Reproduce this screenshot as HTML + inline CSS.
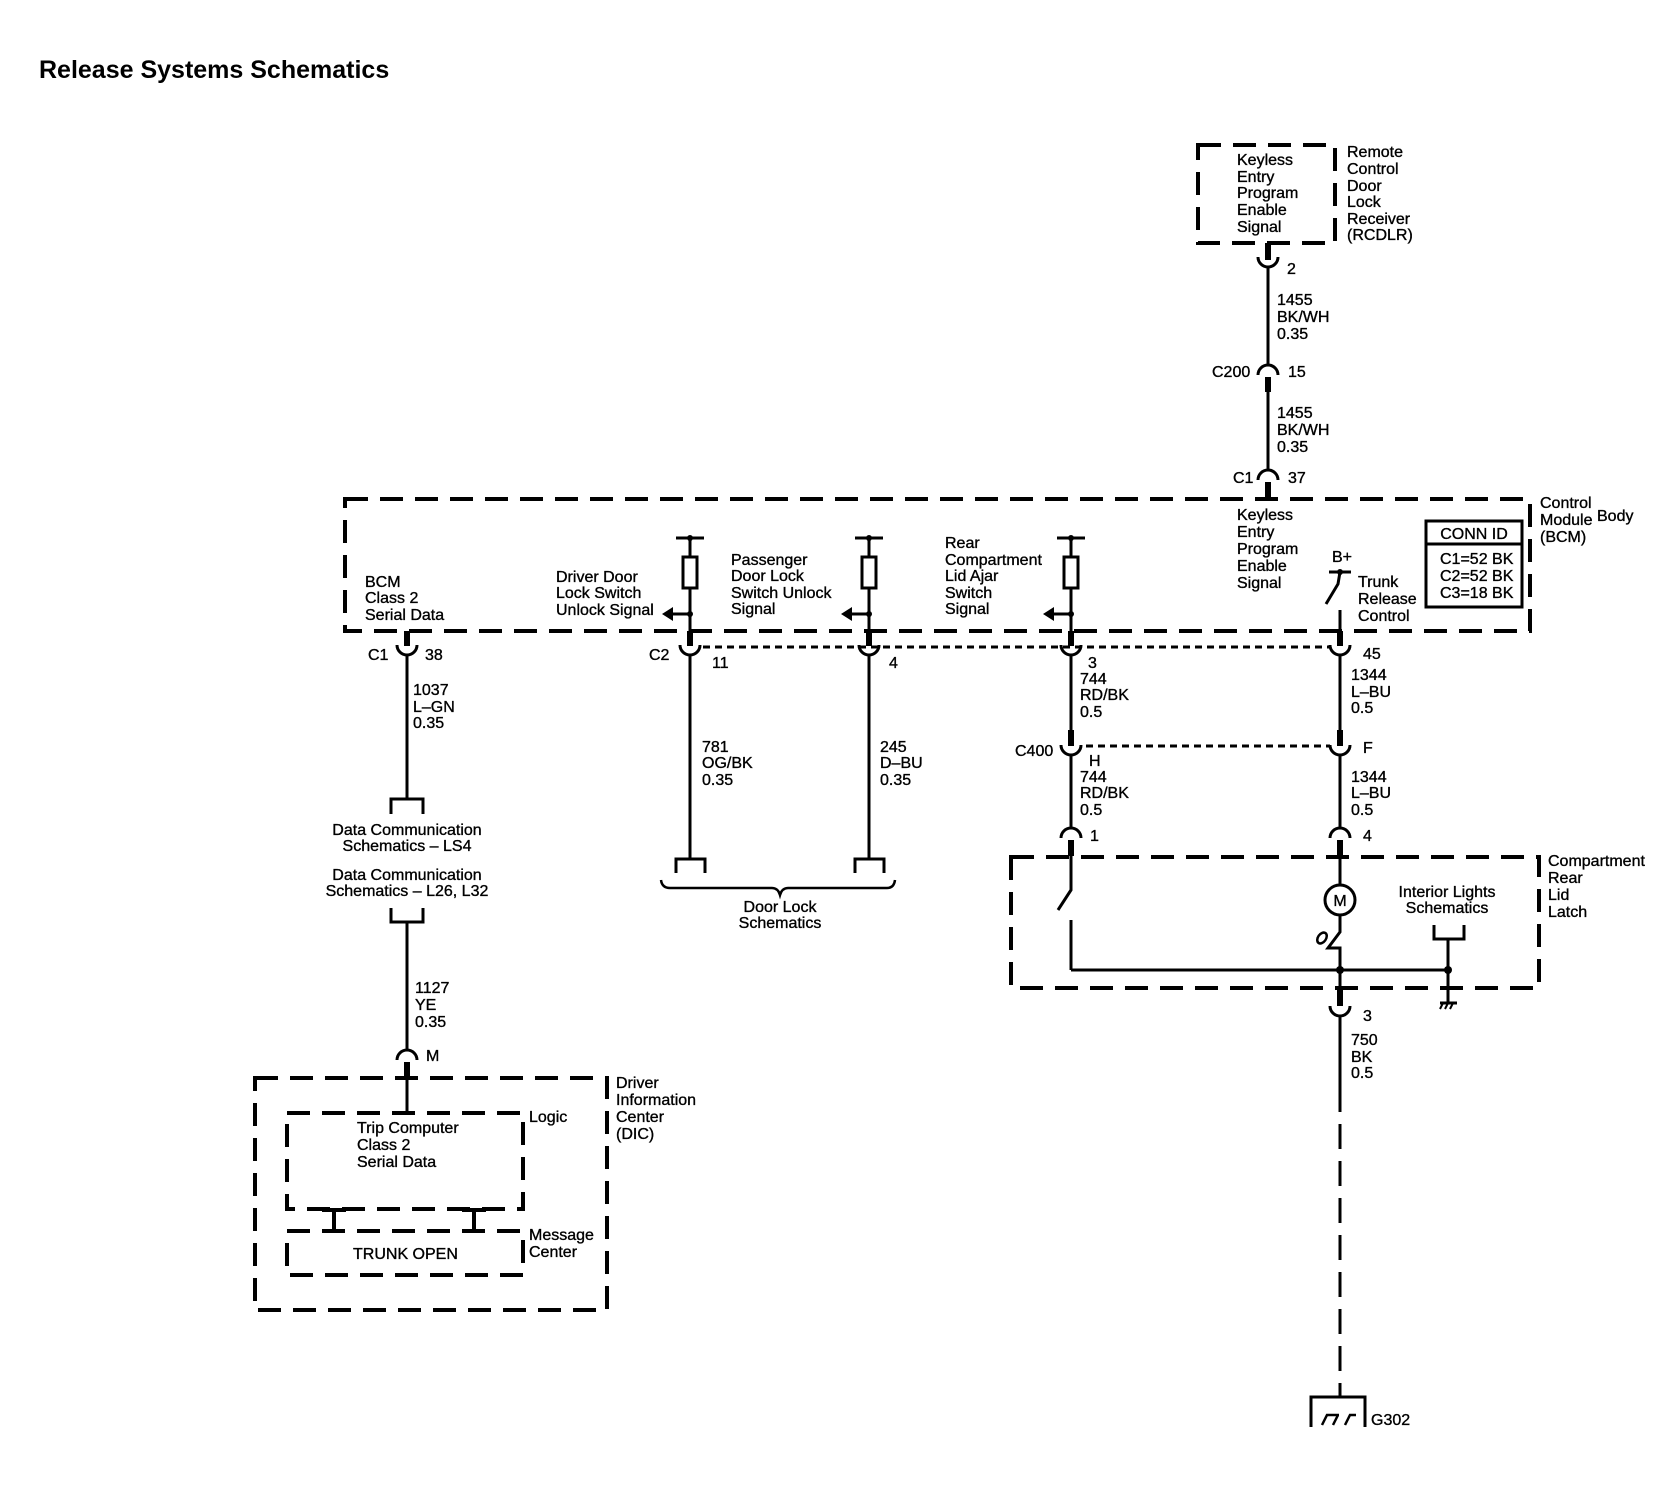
<!DOCTYPE html>
<html><head><meta charset="utf-8"><style>
html,body{margin:0;padding:0;background:#fff;}
svg{display:block;}
text{font-family:"Liberation Sans",Arial,sans-serif;font-size:16px;fill:#000;stroke:#000;stroke-width:0.35;}
.b{fill:none;stroke:#000;stroke-width:4;stroke-dasharray:23 12;}
.w{fill:none;stroke:#000;stroke-width:3;}
.s{fill:none;stroke:#000;stroke-width:6;}
.d{fill:none;stroke:#000;stroke-width:3;stroke-dasharray:7 5;}
</style></head><body>
<svg width="1678" height="1504" viewBox="0 0 1678 1504" xmlns="http://www.w3.org/2000/svg">
<text x="39" y="78" style="font-size:25px;font-weight:bold;stroke-width:0">Release Systems Schematics</text>

<!-- RCDLR -->
<rect x="1198" y="145" width="137" height="98" class="b"/>
<text x="1237" y="165">Keyless</text><text x="1237" y="182">Entry</text><text x="1237" y="198">Program</text><text x="1237" y="215">Enable</text><text x="1237" y="232">Signal</text>
<text x="1347" y="157">Remote</text><text x="1347" y="174">Control</text><text x="1347" y="191">Door</text><text x="1347" y="207">Lock</text><text x="1347" y="224">Receiver</text><text x="1347" y="240">(RCDLR)</text>
<line x1="1268" y1="243" x2="1268" y2="260" class="s"/>
<path d="M1258,257 A10,10 0 0 0 1278,257" class="w"/>
<text x="1287" y="274">2</text>
<line x1="1268" y1="267" x2="1268" y2="366" class="w"/>
<text x="1277" y="305">1455</text><text x="1277" y="322">BK/WH</text><text x="1277" y="339">0.35</text>
<path d="M1258,375 A10,10 0 0 1 1278,375" class="w"/>
<text x="1212" y="377">C200</text><text x="1288" y="377">15</text>
<line x1="1268" y1="377" x2="1268" y2="392" class="s"/>
<line x1="1268" y1="392" x2="1268" y2="471" class="w"/>
<text x="1277" y="418">1455</text><text x="1277" y="435">BK/WH</text><text x="1277" y="452">0.35</text>
<path d="M1258,480 A10,10 0 0 1 1278,480" class="w"/>
<text x="1233" y="483">C1</text><text x="1288" y="483">37</text>
<line x1="1268" y1="482" x2="1268" y2="499" class="s"/>

<!-- BCM -->
<rect x="345" y="499" width="1185" height="132" class="b"/>
<text x="1540" y="508">Control</text><text x="1540" y="525">Module</text><text x="1540" y="542">(BCM)</text><text x="1597" y="521">Body</text>
<text x="1237" y="520">Keyless</text><text x="1237" y="537">Entry</text><text x="1237" y="554">Program</text><text x="1237" y="571">Enable</text><text x="1237" y="588">Signal</text>
<rect x="1426" y="521" width="96" height="86" fill="none" stroke="#000" stroke-width="3"/>
<line x1="1426" y1="544" x2="1522" y2="544" stroke="#000" stroke-width="3"/>
<text x="1474" y="539" text-anchor="middle">CONN ID</text>
<text x="1440" y="564">C1=52 BK</text><text x="1440" y="581">C2=52 BK</text><text x="1440" y="598">C3=18 BK</text>
<text x="1332" y="562">B+</text>
<line x1="1329" y1="572" x2="1351" y2="572" class="w"/>
<circle cx="1340" cy="572" r="3"/>
<path d="M1340,572 L1338,584 L1326,604" class="w"/>
<text x="1358" y="587">Trunk</text><text x="1358" y="604">Release</text><text x="1358" y="621">Control</text>
<line x1="1340" y1="610" x2="1340" y2="631" class="w"/>

<text x="365" y="587">BCM</text><text x="365" y="603">Class 2</text><text x="365" y="620">Serial Data</text>
<text x="556" y="582">Driver Door</text><text x="556" y="598">Lock Switch</text><text x="556" y="615">Unlock Signal</text>
<text x="731" y="565">Passenger</text><text x="731" y="581">Door Lock</text><text x="731" y="598">Switch Unlock</text><text x="731" y="614">Signal</text>
<text x="945" y="548">Rear</text><text x="945" y="565">Compartment</text><text x="945" y="581">Lid Ajar</text><text x="945" y="598">Switch</text><text x="945" y="614">Signal</text>

<!-- pull-up inputs -->
<g>
<line x1="676" y1="538" x2="704" y2="538" class="w"/><circle cx="690" cy="538" r="3"/>
<line x1="690" y1="538" x2="690" y2="557" class="w"/><rect x="683" y="557" width="14" height="31" fill="none" stroke="#000" stroke-width="3"/>
<line x1="690" y1="588" x2="690" y2="631" class="w"/><line x1="690" y1="614" x2="670" y2="614" class="w"/><polygon points="662,614 673,607 673,621"/><circle cx="690" cy="614" r="3"/>
<line x1="855" y1="538" x2="883" y2="538" class="w"/><circle cx="869" cy="538" r="3"/>
<line x1="869" y1="538" x2="869" y2="557" class="w"/><rect x="862" y="557" width="14" height="31" fill="none" stroke="#000" stroke-width="3"/>
<line x1="869" y1="588" x2="869" y2="631" class="w"/><line x1="869" y1="614" x2="849" y2="614" class="w"/><polygon points="841,614 852,607 852,621"/><circle cx="869" cy="614" r="3"/>
<line x1="1057" y1="538" x2="1085" y2="538" class="w"/><circle cx="1071" cy="538" r="3"/>
<line x1="1071" y1="538" x2="1071" y2="557" class="w"/><rect x="1064" y="557" width="14" height="31" fill="none" stroke="#000" stroke-width="3"/>
<line x1="1071" y1="588" x2="1071" y2="631" class="w"/><line x1="1071" y1="614" x2="1051" y2="614" class="w"/><polygon points="1043,614 1054,607 1054,621"/><circle cx="1071" cy="614" r="3"/>
</g>

<!-- BCM lower connectors -->
<g>
<line x1="407" y1="631" x2="407" y2="646" class="s"/><path d="M397,645 A10,10 0 0 0 417,645" class="w"/>
<line x1="690" y1="631" x2="690" y2="646" class="s"/><path d="M680,645 A10,10 0 0 0 700,645" class="w"/>
<line x1="869" y1="631" x2="869" y2="646" class="s"/><path d="M859,645 A10,10 0 0 0 879,645" class="w"/>
<line x1="1071" y1="631" x2="1071" y2="646" class="s"/><path d="M1061,645 A10,10 0 0 0 1081,645" class="w"/>
<line x1="1340" y1="631" x2="1340" y2="646" class="s"/><path d="M1330,645 A10,10 0 0 0 1350,645" class="w"/>
</g>
<line x1="703" y1="647" x2="1330" y2="647" class="d"/>
<text x="368" y="660">C1</text><text x="425" y="660">38</text>
<text x="649" y="660">C2</text><text x="712" y="668">11</text>
<text x="889" y="668">4</text><text x="1088" y="668">3</text><text x="1363" y="659">45</text>

<!-- left column -->
<line x1="407" y1="655" x2="407" y2="798" class="w"/>
<text x="413" y="695">1037</text><text x="413" y="712">L–GN</text><text x="413" y="728">0.35</text>
<path d="M391,814 V799 H423 V814" class="w"/>
<text x="407" y="835" text-anchor="middle">Data Communication</text><text x="407" y="851" text-anchor="middle">Schematics – LS4</text>
<text x="407" y="880" text-anchor="middle">Data Communication</text><text x="407" y="896" text-anchor="middle">Schematics – L26, L32</text>
<path d="M391,908 V922 H423 V908" class="w"/>
<line x1="407" y1="922" x2="407" y2="1051" class="w"/>
<text x="415" y="993">1127</text><text x="415" y="1010">YE</text><text x="415" y="1027">0.35</text>
<path d="M397,1060 A10,10 0 0 1 417,1060" class="w"/>
<text x="426" y="1061">M</text>
<line x1="407" y1="1062" x2="407" y2="1078" class="s"/>
<line x1="407" y1="1078" x2="407" y2="1113" class="w"/>

<!-- DIC -->
<rect x="255" y="1078" width="352" height="232" class="b"/>
<text x="616" y="1088">Driver</text><text x="616" y="1105">Information</text><text x="616" y="1122">Center</text><text x="616" y="1139">(DIC)</text>
<rect x="287" y="1113" width="236" height="96" class="b"/>
<text x="529" y="1122">Logic</text>
<text x="357" y="1133">Trip Computer</text><text x="357" y="1150">Class 2</text><text x="357" y="1167">Serial Data</text>
<rect x="287" y="1231" width="236" height="44" class="b"/>
<text x="529" y="1240">Message</text><text x="529" y="1257">Center</text>
<text x="353" y="1259">TRUNK OPEN</text>
<line x1="334" y1="1209" x2="334" y2="1231" stroke="#000" stroke-width="4"/><line x1="322" y1="1210" x2="346" y2="1210" stroke="#000" stroke-width="4"/>
<line x1="474" y1="1209" x2="474" y2="1231" stroke="#000" stroke-width="4"/><line x1="462" y1="1210" x2="486" y2="1210" stroke="#000" stroke-width="4"/>

<!-- door lock -->
<line x1="690" y1="655" x2="690" y2="858" class="w"/>
<text x="702" y="752">781</text><text x="702" y="768">OG/BK</text><text x="702" y="785">0.35</text>
<line x1="869" y1="655" x2="869" y2="858" class="w"/>
<text x="880" y="752">245</text><text x="880" y="768">D–BU</text><text x="880" y="785">0.35</text>
<path d="M676,873 V859 H705 V873" class="w"/>
<path d="M855,873 V859 H884 V873" class="w"/>
<path d="M661,880 Q662,888 670,888 H772 Q778,888 780,895 Q782,888 788,888 H887 Q894,888 895,880" fill="none" stroke="#000" stroke-width="2.5"/>
<text x="780" y="912" text-anchor="middle">Door Lock</text><text x="780" y="928" text-anchor="middle">Schematics</text>

<!-- rear compartment -->
<line x1="1071" y1="655" x2="1071" y2="731" class="w"/>
<line x1="1340" y1="655" x2="1340" y2="731" class="w"/>
<text x="1080" y="684">744</text><text x="1080" y="700">RD/BK</text><text x="1080" y="717">0.5</text>
<text x="1351" y="680">1344</text><text x="1351" y="697">L–BU</text><text x="1351" y="713">0.5</text>
<line x1="1071" y1="730" x2="1071" y2="746" class="s"/><path d="M1061,745 A10,10 0 0 0 1081,745" class="w"/>
<line x1="1340" y1="730" x2="1340" y2="746" class="s"/><path d="M1330,745 A10,10 0 0 0 1350,745" class="w"/>
<line x1="1086" y1="746" x2="1330" y2="746" class="d"/>
<text x="1015" y="756">C400</text><text x="1089" y="766">H</text><text x="1363" y="753">F</text>
<line x1="1071" y1="755" x2="1071" y2="829" class="w"/>
<line x1="1340" y1="755" x2="1340" y2="829" class="w"/>
<text x="1080" y="782">744</text><text x="1080" y="798">RD/BK</text><text x="1080" y="815">0.5</text>
<text x="1351" y="782">1344</text><text x="1351" y="798">L–BU</text><text x="1351" y="815">0.5</text>
<path d="M1061,838 A10,10 0 0 1 1081,838" class="w"/><path d="M1330,838 A10,10 0 0 1 1350,838" class="w"/>
<text x="1090" y="841">1</text><text x="1363" y="841">4</text>
<line x1="1071" y1="840" x2="1071" y2="856" class="s"/><line x1="1340" y1="840" x2="1340" y2="856" class="s"/>

<rect x="1011" y="857" width="528" height="131" class="b"/>
<text x="1548" y="866">Compartment</text><text x="1548" y="883">Rear</text><text x="1548" y="900">Lid</text><text x="1548" y="917">Latch</text>
<path d="M1071,856 V890 L1058,910" class="w"/>
<line x1="1071" y1="920" x2="1071" y2="970" class="w"/>
<line x1="1340" y1="856" x2="1340" y2="885" class="w"/>
<circle cx="1340" cy="900" r="15" fill="none" stroke="#000" stroke-width="3"/>
<text x="1340" y="906" text-anchor="middle">M</text>
<path d="M1340,915 V932 L1328,948 H1340 V1006" class="w"/>
<ellipse cx="1322" cy="938" rx="4" ry="6" transform="rotate(35 1322 938)" fill="none" stroke="#000" stroke-width="2.5"/>
<line x1="1071" y1="970" x2="1448" y2="970" class="w"/>
<circle cx="1340" cy="970" r="4"/><circle cx="1448" cy="970" r="4"/>
<text x="1447" y="897" text-anchor="middle">Interior Lights</text><text x="1447" y="913" text-anchor="middle">Schematics</text>
<path d="M1434,925 V939 H1464 V925" class="w"/>
<line x1="1448" y1="939" x2="1448" y2="1003" class="w"/>
<line x1="1440" y1="1003" x2="1457" y2="1003" class="w"/>
<path d="M1443,1003 l-3,6 M1448,1003 l-3,6 M1453,1003 l-3,6" stroke="#000" stroke-width="2"/>

<line x1="1340" y1="988" x2="1340" y2="1006" class="s"/>
<path d="M1330,1006 A10,10 0 0 0 1350,1006" class="w"/>
<text x="1363" y="1021">3</text>
<line x1="1340" y1="1015" x2="1340" y2="1112" class="w"/>
<text x="1351" y="1045">750</text><text x="1351" y="1062">BK</text><text x="1351" y="1078">0.5</text>
<line x1="1340" y1="1112" x2="1340" y2="1397" stroke="#000" stroke-width="3" stroke-dasharray="25 12" stroke-dashoffset="-12"/>
<path d="M1311,1427 V1397 H1365 V1427" class="w"/>
<path d="M1322,1425 l5,-10 h12 M1333,1425 l5,-10 M1345,1425 l5,-10 h6" fill="none" stroke="#000" stroke-width="2.5"/>
<text x="1371" y="1425">G302</text>
</svg>
</body></html>
